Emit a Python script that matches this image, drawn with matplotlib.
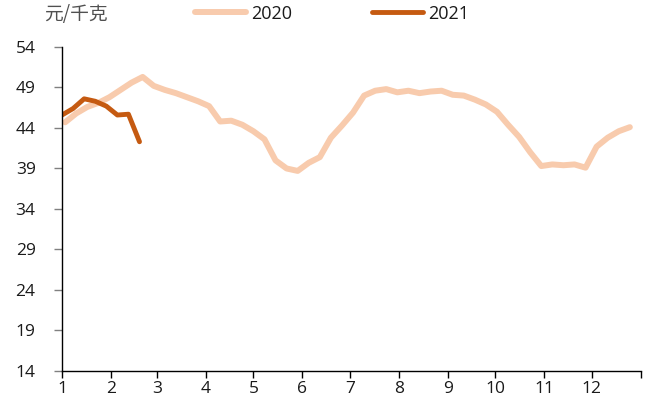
import matplotlib
matplotlib.use("Agg")
import matplotlib.pyplot as plt
import pandas as pd

plt.rcParams['font.family'] = ['Open Sans', 'Noto Sans CJK SC', 'DejaVu Sans']

# Weekly (Friday) price observations
dates_2020 = pd.date_range('2020-01-03', periods=52, freq='7D')
price_2020 = [44.7, 45.8, 46.6, 47.1, 47.8, 48.7, 49.6, 50.3, 49.2, 48.7,
              48.3, 47.8, 47.3, 46.7, 44.8, 44.9, 44.4, 43.6, 42.6, 40.0,
              39.0, 38.7, 39.7, 40.4, 42.8, 44.3, 45.9, 48.0, 48.6, 48.8,
              48.4, 48.6, 48.3, 48.5, 48.6, 48.1, 48.0, 47.5, 46.9, 46.0,
              44.4, 42.9, 41.0, 39.3, 39.5, 39.4, 39.5, 39.1, 41.7, 42.8,
              43.6, 44.1]

dates_2021 = pd.date_range('2021-01-01', periods=8, freq='7D')
price_2021 = [45.6, 46.4, 47.6, 47.3, 46.7, 45.6, 45.7, 42.3]

month_labels = ['1', '2', '3', '4', '5', '6', '7', '8', '9', '10', '11', '12']
y_ticks = [14, 19, 24, 29, 34, 39, 44, 49, 54]

def day_of_year(d):
    # position within the year, counted in days from 1 January
    return (d - pd.Timestamp(year=d.year, month=1, day=1)).days

x2020 = [day_of_year(d) for d in dates_2020]
x2021 = [day_of_year(d) for d in dates_2021]

fig = plt.figure(figsize=(6.54, 4.05), dpi=100)
ax = fig.add_axes([0.0948, 0.084, 0.8852, 0.800])

c2020 = '#F8CBAD'
c2021 = '#C55A11'
l1, = ax.plot(x2020, price_2020, color=c2020, lw=4.3, solid_capstyle='round',
              solid_joinstyle='round', label='2020')
l2, = ax.plot(x2021, price_2021, color=c2021, lw=3.5, solid_capstyle='round',
              solid_joinstyle='round', label='2021')

month_starts = [day_of_year(pd.Timestamp(2020, m, 1)) for m in range(1, 13)] + [366]
ax.set_xlim(0, 366)
ax.set_xticks(month_starts)
ax.set_xticklabels(month_labels + [''])
ax.set_ylim(14, 54)
ax.set_yticks(y_ticks)

for s in ['top', 'right']:
    ax.spines[s].set_visible(False)
ax.spines['left'].set_color('black')
ax.spines['bottom'].set_color('black')
ax.spines['left'].set_linewidth(1.0)
ax.spines['bottom'].set_linewidth(1.0)
ax.tick_params(axis='x', direction='out', length=5, width=1, color='black',
               labelsize=12.5, pad=2)
ax.tick_params(axis='y', direction='out', length=6, width=1, color='#808080',
               labelsize=12.5, pad=13)
for lab in ax.get_yticklabels() + ax.get_xticklabels():
    lab.set_color('#1a1a1a')

fig.text(0.068, 0.963, '元/千克', fontsize=13.5, color='#505050',
         ha='left', va='center', family=['Noto Sans CJK SC', 'DejaVu Sans'],
         fontweight='light')

fig.legend(handles=[l1, l2], loc='center', bbox_to_anchor=(0.508, 0.966),
           ncol=2, frameon=False, fontsize=13, handlelength=2.85,
           handletextpad=0.28, columnspacing=4.4, borderaxespad=0,
           borderpad=0)
for t in fig.legends[0].get_texts():
    t.set_color('#1a1a1a')

fig.savefig('out.png', dpi=100, facecolor='white')
